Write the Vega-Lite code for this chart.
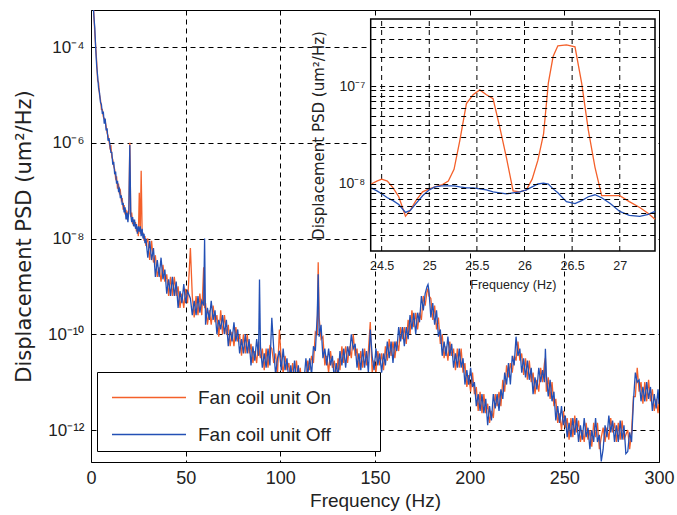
{
"$schema": "https://vega.github.io/schema/vega-lite/v6.json",
"width": 568, "height": 452,
"autosize": {"type": "none"},
"padding": {"left": 91, "top": 10, "right": 18, "bottom": 53},
"background": "white",
"config": {
 "view": {"stroke": "black", "strokeWidth": 1},
 "font": "Liberation Sans",
 "axis": {"labelFont": "Liberation Sans", "titleFont": "Liberation Sans", "labelColor": "#222", "titleColor": "#222", "titleFontWeight": "normal", "gridColor": "black", "gridDash": [5, 4], "gridOpacity": 1, "gridWidth": 1, "ticks": false, "domainColor": "black", "labelFlush": false},
 "legend": {"orient": "none", "legendX": 6, "legendY": 362, "fillColor": "white", "strokeColor": "black", "strokeWidth": 1, "padding": 6, "symbolType": "M-2,0L2,0", "symbolSize": 1369, "symbolStrokeWidth": 1.5, "symbolOffset": 26.5, "labelOffset": 29.5, "labelFontSize": 19, "labelFont": "Liberation Sans", "labelColor": "#222", "rowPadding": 7, "labelLimit": 400}
},
"datasets": {
 "main": [
  {"f":1,"on":1e-3,"off":1e-3},{"f":1.5,"on":5e-4,"off":4.5e-4},{"f":2,"on":2e-4,"off":2.5e-4},{"f":2.5,"on":1e-4,"off":9e-5},{"f":3,"on":5e-5,"off":4e-5},{"f":3.5,"on":2e-5,"off":2.5e-5},{"f":4,"on":1.8e-5,"off":1.4e-5},{"f":4.5,"on":1e-5,"off":1.1e-5},{"f":5,"on":8e-6,"off":7e-6},{"f":5.5,"on":5e-6,"off":6.3e-6},{"f":6,"on":5e-6,"off":4e-6},{"f":6.5,"on":3.5e-6,"off":4.5e-6},{"f":7,"on":3.2e-6,"off":2.5e-6},{"f":7.5,"on":2.8e-6,"off":3.2e-6},{"f":8,"on":2.2e-6,"off":1.8e-6},{"f":8.5,"on":1.6e-6,"off":2e-6},{"f":9,"on":1.4e-6,"off":1.1e-6},{"f":9.5,"on":1.1e-6,"off":1.26e-6},{"f":10,"on":8e-7,"off":9e-7},{"f":10.5,"on":9e-7,"off":6.3e-7},{"f":11,"on":5e-7,"off":6.3e-7},{"f":11.5,"on":4.5e-7,"off":3.5e-7},{"f":12,"on":3.2e-7,"off":4e-7},{"f":12.5,"on":2.8e-7,"off":2.2e-7},{"f":13,"on":1.8e-7,"off":2.5e-7},{"f":13.5,"on":2e-7,"off":1.4e-7},{"f":14,"on":1.1e-7,"off":1.6e-7},{"f":14.5,"on":1.4e-7,"off":1e-7},{"f":15,"on":9e-8,"off":1.1e-7},{"f":15.5,"on":1e-7,"off":7e-8},{"f":16,"on":6.3e-8,"off":8e-8},{"f":16.5,"on":7e-8,"off":5e-8},{"f":17,"on":4e-8,"off":5.6e-8},{"f":17.5,"on":5e-8,"off":3.5e-8},{"f":18,"on":3.2e-8,"off":4.5e-8},{"f":18.5,"on":4e-8,"off":2.5e-8},{"f":19,"on":2.5e-8,"off":3.5e-8},{"f":19.5,"on":3.5e-8,"off":2.2e-8},{"f":20,"on":3.2e-8,"off":4e-8},{"f":20.5,"on":1e-6,"off":9e-7},{"f":21,"on":2.8e-8,"off":3.2e-8},{"f":21.5,"on":3.5e-8,"off":2.2e-8},{"f":22,"on":2e-8,"off":2.8e-8},{"f":22.5,"on":2.5e-8,"off":1.8e-8},{"f":23,"on":1.8e-8,"off":2.5e-8},{"f":23.5,"on":2.2e-8,"off":1.6e-8},{"f":24,"on":1.4e-8,"off":2e-8},{"f":24.5,"on":1.6e-8,"off":1.26e-8},{"f":25,"on":1.12e-8,"off":1.8e-8},{"f":25.5,"on":9e-8,"off":1.4e-8},{"f":26,"on":1.26e-8,"off":1.8e-8},{"f":26.5,"on":2.6e-7,"off":1.12e-8},{"f":27,"on":1.4e-8,"off":1.6e-8},{"f":27.5,"on":1.26e-8,"off":1e-8},{"f":28,"on":9e-9,"off":1.26e-8},{"f":28.5,"on":1.12e-8,"off":8e-9},{"f":29,"on":7e-9,"off":1e-8},{"f":29.5,"on":9e-9,"off":6.3e-9},
  {"f":30,"on":1e-8,"off":3.98e-9},{"f":31,"on":3.55e-9,"off":8.91e-9},{"f":32,"on":8.91e-9,"off":3.55e-9},{"f":33,"on":3.16e-9,"off":6.31e-9},{"f":34,"on":4.47e-9,"off":1.58e-9},{"f":35,"on":1.58e-9,"off":3.55e-9},{"f":36,"on":2.51e-9,"off":1.58e-9},{"f":37,"on":1.26e-9,"off":3.98e-9},{"f":38,"on":2.82e-9,"off":1.41e-9},{"f":39,"on":1.26e-9,"off":2.24e-9},{"f":40,"on":1.78e-9,"off":7.08e-10},{"f":41,"on":6.31e-10,"off":1.41e-9},{"f":42,"on":1.58e-9,"off":6.31e-10},{"f":43,"on":6.31e-10,"off":1.58e-9},{"f":44,"on":1.58e-9,"off":6.31e-10},{"f":45,"on":6.31e-10,"off":1.26e-9},{"f":46,"on":1e-9,"off":3.55e-10},{"f":47,"on":3.55e-10,"off":7.94e-10},{"f":48,"on":7.08e-10,"off":4.47e-10},{"f":49,"on":3.55e-10,"off":1.12e-9},{"f":50,"on":8.91e-10,"off":4.47e-10},{"f":51,"on":4.47e-10,"off":7.94e-10},{"f":52.5,"on":6.3e-9,"off":5.6e-10},{"f":53.5,"on":6.31e-10,"off":2.51e-10},{"f":54.5,"on":2.24e-10,"off":5.01e-10},{"f":55.5,"on":6.31e-10,"off":2.51e-10},{"f":56.5,"on":2.51e-10,"off":6.31e-10},{"f":57.5,"on":7.08e-10,"off":2.82e-10},{"f":58.5,"on":2.51e-10,"off":5.01e-10},{"f":59.5,"on":2.5e-9,"off":4e-10},{"f":60,"on":3.5e-10,"off":1e-8},{"f":60.5,"on":4.47e-10,"off":1.58e-10},{"f":61.5,"on":1.58e-10,"off":3.55e-10},{"f":62.5,"on":3.16e-10,"off":2e-10},{"f":63.5,"on":1.58e-10,"off":5.01e-10},{"f":64.5,"on":3.98e-10,"off":2e-10},{"f":65.5,"on":1.78e-10,"off":3.16e-10},{"f":66.5,"on":2.51e-10,"off":1e-10},{"f":67.5,"on":8.91e-11,"off":2e-10},{"f":68.5,"on":3.16e-10,"off":1.26e-10},{"f":69.5,"on":1e-10,"off":2.51e-10},{"f":70.5,"on":2.51e-10,"off":1e-10},{"f":71.5,"on":1e-10,"off":2e-10},{"f":72.5,"on":1.58e-10,"off":5.62e-11},{"f":73.5,"on":5.62e-11,"off":1.26e-10},{"f":74.5,"on":1.12e-10,"off":7.08e-11},{"f":75.5,"on":5.62e-11,"off":1.78e-10},{"f":76.5,"on":1.41e-10,"off":7.08e-11},{"f":77.5,"on":7.08e-11,"off":1.26e-10},{"f":78.5,"on":1e-10,"off":3.98e-11},{"f":79.5,"on":3.55e-11,"off":7.94e-11},{"f":80.5,"on":1e-10,"off":3.98e-11},{"f":81.5,"on":3.98e-11,"off":1e-10},{"f":82.5,"on":1e-10,"off":3.98e-11},{"f":83.5,"on":3.98e-11,"off":7.94e-11},{"f":84.5,"on":6.31e-11,"off":2.24e-11},{"f":85.5,"on":2.51e-11,"off":5.62e-11},{"f":86.5,"on":4.47e-11,"off":2.82e-11},{"f":87.5,"on":2.51e-11,"off":7.94e-11},{"f":88.5,"on":7.08e-11,"off":3.55e-11},{"f":89,"on":4e-11,"off":1.4e-9},{"f":89.5,"on":3.16e-11,"off":5.62e-11},{"f":90.5,"on":5.01e-11,"off":2e-11},{"f":91.5,"on":1.78e-11,"off":3.98e-11},{"f":92.5,"on":5.01e-11,"off":2e-11},{"f":93.5,"on":2e-11,"off":5.01e-11},{"f":94.5,"on":5.62e-11,"off":2.24e-11},{"f":95.5,"on":5e-11,"off":2.2e-10},{"f":96.5,"on":2.51e-11,"off":5.01e-11},{"f":97.5,"on":3.98e-11,"off":1.41e-11},{"f":98.5,"on":1.41e-11,"off":3.16e-11},{"f":99.5,"on":1.26e-10,"off":4.5e-11},{"f":100.5,"on":2.82e-11,"off":1.78e-11},{"f":101.5,"on":1.58e-11,"off":5.01e-11},{"f":102.5,"on":3.55e-11,"off":1.78e-11},{"f":103.5,"on":1.78e-11,"off":3.16e-11},{"f":104.5,"on":2.51e-11,"off":1e-11},{"f":105.5,"on":1e-11,"off":2.24e-11},{"f":106.5,"on":2.51e-11,"off":1e-11},{"f":107.5,"on":1.12e-11,"off":2.82e-11},{"f":108.5,"on":2.82e-11,"off":1.12e-11},{"f":109.5,"on":1.12e-11,"off":2.24e-11},{"f":110.5,"on":2e-11,"off":7.08e-12},{"f":111.5,"on":7.08e-12,"off":1.58e-11},{"f":112.5,"on":1.58e-11,"off":1e-11},{"f":113.5,"on":1e-11,"off":3.16e-11},{"f":114.5,"on":2.82e-11,"off":1.41e-11},{"f":115.5,"on":1.78e-11,"off":3.16e-11},{"f":116.5,"on":3.55e-11,"off":1.41e-11},{"f":117.5,"on":2.51e-11,"off":5.62e-11},{"f":118.5,"on":1.12e-10,"off":4.47e-11},{"f":119.5,"on":1e-10,"off":2.51e-10},{"f":120,"on":3.2e-9,"off":1.8e-9},{"f":120.5,"on":2.24e-10,"off":8.91e-11},{"f":121.5,"on":7.94e-11,"off":1.58e-10},{"f":122.5,"on":8.91e-11,"off":3.16e-11},{"f":123.5,"on":2.24e-11,"off":5.01e-11},{"f":124.5,"on":3.55e-11,"off":2.24e-11},{"f":125.5,"on":1.58e-11,"off":5.01e-11},{"f":126.5,"on":4.47e-11,"off":2.24e-11},{"f":127.5,"on":2e-11,"off":3.55e-11},{"f":128.5,"on":2.82e-11,"off":1.12e-11},{"f":129.5,"on":1.12e-11,"off":2.51e-11},{"f":130.5,"on":3.16e-11,"off":1.26e-11},{"f":131.5,"on":1.78e-11,"off":4.47e-11},{"f":132.5,"on":5.62e-11,"off":2.24e-11},{"f":133.5,"on":2.51e-11,"off":5.01e-11},{"f":134.5,"on":5.62e-11,"off":2e-11},{"f":135.5,"on":2.51e-11,"off":5.62e-11},{"f":136.5,"on":5.62e-11,"off":3.55e-11},{"f":137.5,"on":3.16e-11,"off":1e-10},{"f":138.5,"on":1e-10,"off":5.01e-11},{"f":139.5,"on":3.55e-11,"off":6.31e-11},{"f":140.5,"on":5.01e-11,"off":2e-11},{"f":141.5,"on":1.78e-11,"off":3.98e-11},{"f":142.5,"on":4.47e-11,"off":1.78e-11},{"f":143.5,"on":2e-11,"off":5.01e-11},{"f":144.5,"on":5.01e-11,"off":2e-11},{"f":145.5,"on":2.24e-11,"off":4.47e-11},{"f":146.5,"on":4.47e-11,"off":1.58e-11},{"f":147.5,"on":1.8e-10,"off":1.26e-10},{"f":148.5,"on":1.58e-11,"off":3.55e-11},{"f":149.5,"on":2.82e-11,"off":1.78e-11},{"f":150.5,"on":1.58e-11,"off":5.01e-11},{"f":151.5,"on":4.47e-11,"off":2.24e-11},{"f":152.5,"on":2.24e-11,"off":3.98e-11},{"f":153.5,"on":3.98e-11,"off":1.58e-11},{"f":154.5,"on":1.78e-11,"off":3.98e-11},{"f":155.5,"on":5.62e-11,"off":2.24e-11},{"f":156.5,"on":2.82e-11,"off":7.08e-11},{"f":157.5,"on":7.94e-11,"off":3.16e-11},{"f":158.5,"on":3.55e-11,"off":7.08e-11},{"f":159.5,"on":7.08e-11,"off":2.51e-11},{"f":160.5,"on":3.16e-11,"off":7.08e-11},{"f":161.5,"on":7.08e-11,"off":4.47e-11},{"f":162.5,"on":4.47e-11,"off":1.41e-10},{"f":163.5,"on":1.41e-10,"off":7.08e-11},{"f":164.5,"on":7.94e-11,"off":1.41e-10},{"f":165.5,"on":1.41e-10,"off":5.62e-11},{"f":166.5,"on":6.31e-11,"off":1.41e-10},{"f":167.5,"on":2e-10,"off":7.94e-11},{"f":168.5,"on":1e-10,"off":2.51e-10},{"f":169.5,"on":3.16e-10,"off":1.26e-10},{"f":170.5,"on":1.41e-10,"off":2.82e-10},{"f":171.5,"on":2.82e-10,"off":1e-10},{"f":172.5,"on":1.26e-10,"off":2.82e-10},{"f":173.5,"on":2.82e-10,"off":1.78e-10},{"f":174.5,"on":2e-10,"off":6.31e-10},{"f":175.5,"on":6.31e-10,"off":3.16e-10},{"f":176.5,"on":3.98e-10,"off":7.08e-10},{"f":177.5,"on":8e-10,"off":1e-9},{"f":178,"on":9e-10,"off":1.1e-9},{"f":178.5,"on":6.3e-10,"off":8e-10},{"f":179.5,"on":5.62e-10,"off":2.24e-10},{"f":180.5,"on":2e-10,"off":4.47e-10},{"f":181.5,"on":3.98e-10,"off":1.58e-10},{"f":182.5,"on":1.26e-10,"off":3.16e-10},{"f":183.5,"on":2.24e-10,"off":8.91e-11},{"f":184.5,"on":6.31e-11,"off":1.26e-10},{"f":185.5,"on":1e-10,"off":3.55e-11},{"f":186.5,"on":3.16e-11,"off":7.08e-11},{"f":187.5,"on":5.62e-11,"off":3.55e-11},{"f":188.5,"on":2.82e-11,"off":8.91e-11},{"f":189.5,"on":7.08e-11,"off":3.55e-11},{"f":190.5,"on":3.55e-11,"off":6.31e-11},{"f":191.5,"on":5.01e-11,"off":2e-11},{"f":192.5,"on":1.78e-11,"off":3.98e-11},{"f":193.5,"on":5.01e-11,"off":2e-11},{"f":194.5,"on":2e-11,"off":5.01e-11},{"f":195.5,"on":5.01e-11,"off":2e-11},{"f":196.5,"on":1.58e-11,"off":3.16e-11},{"f":197.5,"on":2.51e-11,"off":8.91e-12},{"f":198.5,"on":7.94e-12,"off":1.78e-11},{"f":199.5,"on":1.41e-11,"off":8.91e-12},{"f":200.5,"on":6.31e-12,"off":2e-11},{"f":201.5,"on":1.58e-11,"off":7.94e-12},{"f":202.5,"on":5.62e-12,"off":1e-11},{"f":203.5,"on":7.94e-12,"off":3.16e-12},{"f":204.5,"on":2.51e-12,"off":5.62e-12},{"f":205.5,"on":6.31e-12,"off":2.51e-12},{"f":206.5,"on":2.24e-12,"off":5.62e-12},{"f":207.5,"on":5.62e-12,"off":2.24e-12},{"f":208.5,"on":2.24e-12,"off":4.47e-12},{"f":209.5,"on":3.55e-12,"off":1.26e-12},{"f":210.5,"on":1.41e-12,"off":3.16e-12},{"f":211.5,"on":2.51e-12,"off":1.58e-12},{"f":212.5,"on":1.78e-12,"off":5.62e-12},{"f":213.5,"on":5.62e-12,"off":2.82e-12},{"f":214.5,"on":3.16e-12,"off":5.62e-12},{"f":215.5,"on":6.31e-12,"off":2.51e-12},{"f":216.5,"on":3.16e-12,"off":7.08e-12},{"f":217.5,"on":1.12e-11,"off":4.47e-12},{"f":218.5,"on":6.31e-12,"off":1.58e-11},{"f":219.5,"on":2.24e-11,"off":8.91e-12},{"f":220.5,"on":1.26e-11,"off":2.51e-11},{"f":221.5,"on":2.51e-11,"off":8.91e-12},{"f":222.5,"on":1.58e-11,"off":3.55e-11},{"f":223.5,"on":3.55e-11,"off":2.24e-11},{"f":224.5,"on":2.82e-11,"off":8.91e-11},{"f":225.5,"on":7.08e-11,"off":3.55e-11},{"f":226.5,"on":2.82e-11,"off":5.01e-11},{"f":227.5,"on":3.98e-11,"off":1.58e-11},{"f":228.5,"on":1.41e-11,"off":3.16e-11},{"f":229.5,"on":3.16e-11,"off":1.26e-11},{"f":230.5,"on":1.12e-11,"off":2.82e-11},{"f":231.5,"on":2.82e-11,"off":1.12e-11},{"f":232.5,"on":1e-11,"off":2e-11},{"f":233.5,"on":1.58e-11,"off":5.62e-12},{"f":234.5,"on":5.62e-12,"off":1.26e-11},{"f":235.5,"on":1.12e-11,"off":7.08e-12},{"f":236.5,"on":6.31e-12,"off":2e-11},{"f":237.5,"on":2e-11,"off":1e-11},{"f":238.5,"on":1e-11,"off":1.78e-11},{"f":239.5,"on":2.51e-11,"off":1e-11},{"f":240,"on":3.2e-11,"off":5e-11},{"f":240.5,"on":6.31e-12,"off":1.41e-11},{"f":241.5,"on":1.26e-11,"off":5.01e-12},{"f":242.5,"on":4.47e-12,"off":1.12e-11},{"f":243.5,"on":1e-11,"off":3.98e-12},{"f":244.5,"on":3.16e-12,"off":6.31e-12},{"f":245.5,"on":4.47e-12,"off":1.58e-12},{"f":246.5,"on":1.41e-12,"off":3.16e-12},{"f":247.5,"on":2.24e-12,"off":1.41e-12},{"f":248.5,"on":1e-12,"off":3.16e-12},{"f":249.5,"on":2.51e-12,"off":1.26e-12},{"f":250.5,"on":1.12e-12,"off":2e-12},{"f":251.5,"on":1.78e-12,"off":7.08e-13},{"f":252.5,"on":6.31e-13,"off":1.41e-12},{"f":253.5,"on":1.78e-12,"off":7.08e-13},{"f":254.5,"on":7.08e-13,"off":1.78e-12},{"f":255.5,"on":2e-12,"off":7.94e-13},{"f":256.5,"on":8.91e-13,"off":1.78e-12},{"f":257.5,"on":1.58e-12,"off":5.62e-13},{"f":258.5,"on":5.62e-13,"off":1.26e-12},{"f":259.5,"on":1e-12,"off":6.31e-13},{"f":260.5,"on":5.62e-13,"off":1.78e-12},{"f":261.5,"on":1.41e-12,"off":7.08e-13},{"f":262.5,"on":6.31e-13,"off":1.12e-12},{"f":263.5,"on":1e-12,"off":3.98e-13},{"f":264.5,"on":4.47e-13,"off":1e-12},{"f":265.5,"on":1.41e-12,"off":5.62e-13},{"f":266.5,"on":7.08e-13,"off":1.78e-12},{"f":267.5,"on":1.41e-12,"off":5.62e-13},{"f":268.5,"on":3.98e-13,"off":7.94e-13},{"f":269.5,"on":7e-13,"off":2.2e-13},{"f":270.5,"on":1.12e-12,"off":3.98e-13},{"f":271.5,"on":5.62e-13,"off":1.26e-12},{"f":272.5,"on":1.12e-12,"off":7.08e-13},{"f":273.5,"on":6.31e-13,"off":2e-12},{"f":274.5,"on":1.78e-12,"off":8.91e-13},{"f":275.5,"on":8.91e-13,"off":1.58e-12},{"f":276.5,"on":1.41e-12,"off":5.62e-13},{"f":277.5,"on":5.62e-13,"off":1.26e-12},{"f":278.5,"on":1.41e-12,"off":5.62e-13},{"f":279.5,"on":6.31e-13,"off":1.58e-12},{"f":280.5,"on":1.58e-12,"off":6.31e-13},{"f":281.5,"on":6.31e-13,"off":1.26e-12},{"f":282.5,"on":8e-13,"off":3.2e-13},{"f":283.5,"on":1e-12,"off":3.55e-13},{"f":284.5,"on":3.98e-13,"off":8.91e-13},{"f":285.5,"on":8.91e-13,"off":5.62e-13},{"f":286.5,"on":5e-12,"off":4e-12},{"f":287.5,"on":5.01e-12,"off":1.58e-11},{"f":288.5,"on":2e-11,"off":1e-11},{"f":289.5,"on":6.31e-12,"off":1.12e-11},{"f":290.5,"on":1e-11,"off":3.98e-12},{"f":291.5,"on":3.55e-12,"off":7.94e-12},{"f":292.5,"on":1e-11,"off":3.98e-12},{"f":293.5,"on":3.98e-12,"off":1e-11},{"f":294.5,"on":1.12e-11,"off":4.47e-12},{"f":295.5,"on":3.98e-12,"off":7.94e-12},{"f":296.5,"on":7.08e-12,"off":2.51e-12},{"f":297.5,"on":2.51e-12,"off":5.62e-12},{"f":298.5,"on":4.47e-12,"off":2.82e-12},{"f":299.5,"on":2.24e-12,"off":7.08e-12},{"f":300,"on":4e-12,"off":3.5e-12}
 ],
 "inset": [
  {"f":24.39,"on":1.0e-8,"off":9.12e-9},{"f":24.45,"on":1.07e-8,"off":8.51e-9},{"f":24.5,"on":1.12e-8,"off":7.94e-9},{"f":24.56,"on":1.07e-8,"off":7.24e-9},{"f":24.62,"on":9.12e-9,"off":6.76e-9},{"f":24.68,"on":7.41e-9,"off":6.17e-9},{"f":24.75,"on":4.68e-9,"off":5.13e-9},{"f":24.8,"on":5.37e-9,"off":5.37e-9},{"f":24.86,"on":6.76e-9,"off":6.31e-9},{"f":24.93,"on":8.32e-9,"off":7.59e-9},{"f":25.0,"on":8.91e-9,"off":8.71e-9},{"f":25.06,"on":9.33e-9,"off":9.33e-9},{"f":25.13,"on":9.77e-9,"off":9.55e-9},{"f":25.2,"on":1.07e-8,"off":9.55e-9},{"f":25.26,"on":1.41e-8,"off":9.55e-9},{"f":25.32,"on":2.75e-8,"off":9.33e-9},{"f":25.39,"on":6.61e-8,"off":9.12e-9},{"f":25.46,"on":8.13e-8,"off":9.12e-9},{"f":25.53,"on":9.12e-8,"off":8.91e-9},{"f":25.6,"on":8.13e-8,"off":8.71e-9},{"f":25.67,"on":7.41e-8,"off":8.32e-9},{"f":25.74,"on":3.8e-8,"off":8.13e-9},{"f":25.81,"on":1.86e-8,"off":7.94e-9},{"f":25.88,"on":8.51e-9,"off":8.13e-9},{"f":25.95,"on":8.32e-9,"off":8.32e-9},{"f":26.02,"on":8.71e-9,"off":8.71e-9},{"f":26.08,"on":1.12e-8,"off":9.33e-9},{"f":26.14,"on":1.74e-8,"off":1.0e-8},{"f":26.2,"on":3.24e-8,"off":1.02e-8},{"f":26.25,"on":1.07e-7,"off":1.0e-8},{"f":26.3,"on":2.0e-7,"off":8.91e-9},{"f":26.35,"on":2.57e-7,"off":8.13e-9},{"f":26.44,"on":2.63e-7,"off":6.61e-9},{"f":26.53,"on":2.51e-7,"off":6.31e-9},{"f":26.6,"on":1.07e-7,"off":6.76e-9},{"f":26.67,"on":3.55e-8,"off":7.41e-9},{"f":26.74,"on":1.48e-8,"off":7.76e-9},{"f":26.81,"on":7.59e-9,"off":7.24e-9},{"f":26.9,"on":7.59e-9,"off":6.31e-9},{"f":27.0,"on":7.59e-9,"off":5.25e-9},{"f":27.1,"on":6.61e-9,"off":4.79e-9},{"f":27.21,"on":5.75e-9,"off":4.68e-9},{"f":27.3,"on":5.01e-9,"off":4.9e-9},{"f":27.37,"on":4.37e-9,"off":5.25e-9}
 ],
 "insetgrid": [{"g":24.5},{"g":25},{"g":25.5},{"g":26},{"g":26.5},{"g":27}]
},
"layer": [
 {"data": {"name": "main"},
  "mark": {"type": "line", "strokeWidth": 1.3, "clip": true},
  "encoding": {
   "x": {"field": "f", "type": "quantitative", "scale": {"domain": [0, 300], "nice": false, "zero": false},
         "axis": {"values": [0, 50, 100, 150, 200, 250, 300], "grid": true, "zindex": 0, "labelFontSize": 18, "labelPadding": 7, "title": "Frequency (Hz)", "titleFontSize": 19, "titlePadding": 4, "domain": false}},
   "y": {"field": "on", "type": "quantitative", "scale": {"type": "log", "domain": [2.15e-13, 5.93e-4], "nice": false},
         "axis": {"values": [1e-12, 1e-10, 1e-8, 1e-6, 1e-4], "grid": true, "zindex": 0, "labelFontSize": 17, "labelPadding": 7, "title": "Displacement PSD (um²/Hz)", "titleFont": "DejaVu Sans", "titleFontSize": 21, "titlePadding": 13, "domain": false,
                  "labelExpr": "datum.value > 5e-5 ? '10⁻⁴' : datum.value > 5e-7 ? '10⁻⁶' : datum.value > 5e-9 ? '10⁻⁸' : datum.value > 5e-11 ? '10⁻¹⁰' : '10⁻¹²'"}},
   "color": {"datum": "Fan coil unit On", "type": "nominal", "scale": {"domain": ["Fan coil unit On", "Fan coil unit Off"], "range": ["#f4602a", "#2350b5"]},
             "legend": {"title": null, "labelExpr": "datum.label + '⠀⠀⠀'"}}
  }},
 {"data": {"name": "main"},
  "mark": {"type": "line", "strokeWidth": 1.3, "clip": true},
  "encoding": {
   "x": {"field": "f", "type": "quantitative", "scale": {"domain": [0, 300], "nice": false, "zero": false}, "axis": null},
   "y": {"field": "off", "type": "quantitative", "scale": {"type": "log", "domain": [2.15e-13, 5.93e-4], "nice": false}, "axis": null},
   "color": {"datum": "Fan coil unit Off", "type": "nominal"}
  }},
 {"data": {"values": [{}]},
  "mark": {"type": "rect", "fill": "white", "stroke": "black", "strokeWidth": 1.5},
  "encoding": {
   "x": {"datum": 24.385, "type": "quantitative", "scale": {"domain": [24.385, 27.37], "range": [279.7, 564], "nice": false, "zero": false}, "axis": null},
   "x2": {"datum": 27.37},
   "y": {"datum": 2.07e-9, "type": "quantitative", "scale": {"type": "log", "domain": [2.07e-9, 4.83e-7], "range": [241, 9], "nice": false}, "axis": null},
   "y2": {"datum": 4.83e-7}
  }},
 {"data": {"name": "insetgrid"},
  "mark": {"type": "rule", "color": "black", "strokeWidth": 1, "strokeDash": [5, 4]},
  "encoding": {
   "x": {"field": "g", "type": "quantitative", "scale": {"domain": [24.385, 27.37], "range": [279.7, 564], "nice": false, "zero": false}, "axis": null},
   "y": {"datum": 2.07e-9, "type": "quantitative", "scale": {"type": "log", "domain": [2.07e-9, 4.83e-7], "range": [241, 9], "nice": false}, "axis": null},
   "y2": {"datum": 4.83e-7}
  }},
 {"data": {"name": "inset"},
  "mark": {"type": "line", "strokeWidth": 1.3},
  "encoding": {
   "x": {"field": "f", "type": "quantitative", "scale": {"domain": [24.385, 27.37], "range": [279.7, 564], "nice": false, "zero": false},
         "axis": {"orient": "bottom", "offset": -211, "values": [24.5, 25, 25.5, 26, 26.5, 27], "format": "~g", "grid": false, "zindex": 1, "labelFontSize": 12.5, "labelPadding": 8, "title": "Frequency (Hz)", "titleFontSize": 12.5, "titlePadding": 7, "domain": false}},
   "y": {"field": "on", "type": "quantitative", "scale": {"type": "log", "domain": [2.07e-9, 4.83e-7], "range": [241, 9], "nice": false},
         "axis": {"orient": "left", "offset": -279.7, "values": [3e-9, 4e-9, 5e-9, 6e-9, 7e-9, 8e-9, 9e-9, 1e-8, 2e-8, 3e-8, 4e-8, 5e-8, 6e-8, 7e-8, 8e-8, 9e-8, 1e-7, 2e-7, 3e-7, 4e-7], "grid": true, "zindex": 1, "labelFontSize": 14, "labelPadding": 6, "title": "Displacement PSD (um²/Hz)", "titleFont": "DejaVu Sans", "titleFontSize": 15, "titlePadding": 12, "domain": false, "labelOverlap": false,
                  "labelExpr": "datum.value == 1e-7 ? '10⁻⁷' : datum.value == 1e-8 ? '10⁻⁸' : ''"}},
   "color": {"datum": "Fan coil unit On", "type": "nominal"}
  }},
 {"data": {"name": "inset"},
  "mark": {"type": "line", "strokeWidth": 1.3},
  "encoding": {
   "x": {"field": "f", "type": "quantitative", "scale": {"domain": [24.385, 27.37], "range": [279.7, 564], "nice": false, "zero": false}, "axis": null},
   "y": {"field": "off", "type": "quantitative", "scale": {"type": "log", "domain": [2.07e-9, 4.83e-7], "range": [241, 9], "nice": false}, "axis": null},
   "color": {"datum": "Fan coil unit Off", "type": "nominal"}
  }}
],
"resolve": {"scale": {"x": "independent", "y": "independent"}}
}
